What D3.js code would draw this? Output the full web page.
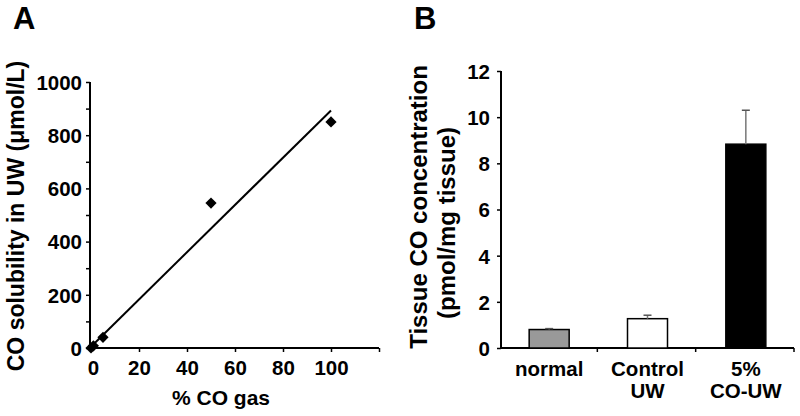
<!DOCTYPE html>
<html><head><meta charset="utf-8">
<script src="https://cdn.jsdelivr.net/npm/d3@7"></script>
<style>
body{margin:0;background:#fff;}
text{font-family:"Liberation Sans",Arial,sans-serif;font-weight:bold;fill:#000;}
</style></head>
<body><svg id="c" width="800" height="416"></svg>
<script>
// Panel A data
const gasPct = [0, 1, 5, 50, 100];
const solubility = [0, 8, 40, 545, 850];
const fitX = [0, 100];
const fitY = [5, 893];
const xTicksA = [0, 20, 40, 60, 80, 100];
const yTicksA = [0, 200, 400, 600, 800, 1000];
// Panel B data
const groups = [["normal"], ["Control", "UW"], ["5%", "CO-UW"]];
const tissueCO = [0.8, 1.27, 8.83];
const tissueErr = [0.04, 0.15, 1.47];
const barFill = ["#999999", "#ffffff", "#000000"];
const yTicksB = [0, 2, 4, 6, 8, 10, 12];

const svg = d3.select("#c");
const TF = "20.5px";

// ---------- Panel A ----------
const xA = d3.scaleLinear().domain([0, 120]).range([91, 379]);
const yA = d3.scaleLinear().domain([0, 1000]).range([348, 82]);
const gA = svg.append("g");

const yAxA = gA.append("g").attr("transform", "translate(90,0)")
  .call(d3.axisLeft(yA).tickValues(d3.range(0, 1001, 100)).tickSize(4)
    .tickFormat(d => yTicksA.includes(d) ? d : ""));
const xAxA = gA.append("g").attr("transform", "translate(0,348)")
  .call(d3.axisBottom(xA).tickValues([0, 20, 40, 60, 80, 100, 120]).tickSize(4)
    .tickFormat(d => xTicksA.includes(d) ? d : ""));
[yAxA, xAxA].forEach(a => {
  a.select(".domain").attr("stroke", "#000").attr("stroke-width", 2)
    .attr("d", a === yAxA ? "M0,348V82" : "M90,0H379");
  a.selectAll(".tick line").attr("stroke", "#000").attr("stroke-width", 1.5);
  a.selectAll("text").style("font-size", TF).style("font-family", "Liberation Sans, Arial, sans-serif").style("font-weight", "bold");
});
yAxA.selectAll("text").attr("x", -8).attr("dy", "0.36em");
xAxA.selectAll("text").attr("y", 27).attr("dy", 0);
xAxA.selectAll(".tick").filter(d => d === 0).select("text").attr("dx", 2);

gA.append("line")
  .attr("x1", xA(fitX[0])).attr("y1", yA(fitY[0]))
  .attr("x2", xA(fitX[1])).attr("y2", yA(fitY[1]))
  .attr("stroke", "#000").attr("stroke-width", 2);

gA.selectAll("path.pt").data(gasPct.map((g, i) => [g, solubility[i]])).enter()
  .append("path").attr("class", "pt")
  .attr("d", d3.symbol().type(d3.symbolDiamond2).size(80))
  .attr("transform", d => `translate(${xA(d[0])},${yA(d[1])})`)
  .attr("fill", "#000");

gA.append("text").attr("x", 221).attr("y", 405).attr("text-anchor", "middle")
  .style("font-size", "21px").text("% CO gas");
gA.append("text").attr("transform", "translate(24,216) rotate(-90)")
  .attr("text-anchor", "middle").style("font-size", "23px")
  .text("CO solubility in UW (μmol/L)");
gA.append("text").attr("x", 13).attr("y", 29).style("font-size", "31px").text("A");

// ---------- Panel B ----------
const xB = d3.scaleBand().domain(d3.range(groups.length)).range([500, 795]).paddingInner(0).paddingOuter(0);
const yB = d3.scaleLinear().domain([0, 12]).range([348, 71]);
const gB = svg.append("g");

const yAxB = gB.append("g").attr("transform", "translate(501,0)")
  .call(d3.axisLeft(yB).tickValues(yTicksB).tickSize(4));
yAxB.select(".domain").attr("stroke", "#000").attr("stroke-width", 2).attr("d", "M0,348V71");
yAxB.selectAll(".tick line").attr("stroke", "#000").attr("stroke-width", 1.5);
yAxB.selectAll("text").style("font-size", TF).style("font-family", "Liberation Sans, Arial, sans-serif")
  .style("font-weight", "bold").attr("x", -11).attr("dy", "0.36em");

// x axis line with boundary ticks
const xAxB = gB.append("g");
xAxB.append("line").attr("x1", 500).attr("x2", xB.range()[1] - 1).attr("y1", 348).attr("y2", 348)
  .attr("stroke", "#000").attr("stroke-width", 2);
xAxB.selectAll("line.bt").data(d3.range(1, groups.length + 1)).enter().append("line")
  .attr("x1", d => xB(d - 1) + xB.bandwidth() - 1).attr("x2", d => xB(d - 1) + xB.bandwidth() - 1)
  .attr("y1", 348).attr("y2", 352).attr("stroke", "#000").attr("stroke-width", 1.5);

const bw = 40;
gB.selectAll("rect.bar").data(tissueCO).enter().append("rect")
  .attr("x", (d, i) => xB(i) + xB.bandwidth() / 2 - bw / 2)
  .attr("y", d => yB(d)).attr("width", bw).attr("height", d => yB(0) - yB(d))
  .attr("fill", (d, i) => barFill[i]).attr("stroke", "#000").attr("stroke-width", 1.5);

gB.selectAll("line.err").data(tissueCO).enter().append("line")
  .attr("x1", (d, i) => xB(i) + xB.bandwidth() / 2).attr("x2", (d, i) => xB(i) + xB.bandwidth() / 2)
  .attr("y1", d => yB(d)).attr("y2", (d, i) => yB(d + tissueErr[i]))
  .attr("stroke", "#777").attr("stroke-width", 1.5);
gB.selectAll("line.cap").data(tissueCO).enter().append("line")
  .attr("x1", (d, i) => xB(i) + xB.bandwidth() / 2 - 4).attr("x2", (d, i) => xB(i) + xB.bandwidth() / 2 + 4)
  .attr("y1", (d, i) => yB(d + tissueErr[i])).attr("y2", (d, i) => yB(d + tissueErr[i]))
  .attr("stroke", "#555").attr("stroke-width", 1.5);

gB.selectAll("text.cat").data(groups).enter().append("text")
  .attr("text-anchor", "middle").style("font-size", TF)
  .attr("x", (d, i) => xB(i) + xB.bandwidth() / 2).attr("y", 376)
  .each(function(d) {
    d.forEach((t, j) => d3.select(this).append("tspan")
      .attr("x", d3.select(this).attr("x")).attr("dy", j ? 22 : 0).text(t));
  });

gB.append("text").attr("transform", "translate(427,207) rotate(-90)")
  .attr("text-anchor", "middle").style("font-size", "24px").text("Tissue CO concentration");
gB.append("text").attr("transform", "translate(455,223) rotate(-90)")
  .attr("text-anchor", "middle").style("font-size", "24px").text("(pmol/mg tissue)");
gB.append("text").attr("x", 414).attr("y", 29).style("font-size", "31px").text("B");
</script></body></html>
